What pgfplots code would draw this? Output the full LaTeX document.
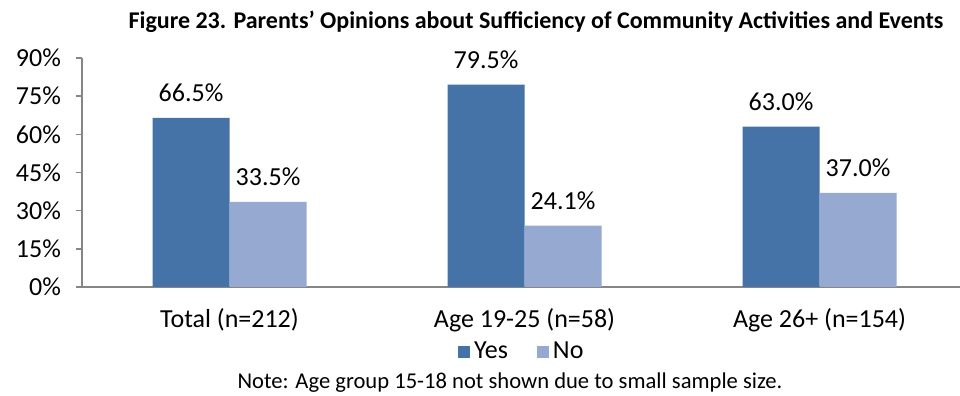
\documentclass[border=0pt]{standalone}
\usepackage{fontspec}
\setmainfont{Carlito}
\usepackage{pgfplots}
\pgfplotsset{compat=1.18}

\definecolor{yesblue}{RGB}{69,114,167}
\definecolor{nolight}{RGB}{149,169,209}
\definecolor{axisgray}{RGB}{134,134,134}

\begin{document}
\begin{tikzpicture}
\path[use as bounding box] (0,0) rectangle (480pt,198pt);

\node[font=\fontsize{12}{14}\selectfont\bfseries] at (268pt,187pt)
  {Figure 23. Parents’ Opinions about Sufficiency of Community Activities and Events};

\begin{axis}[
  at={(41pt,54.5pt)}, anchor=south west,
  scale only axis, width=439pt, height=114.5pt,
  clip=false,
  /pgf/number format/assume math mode=true,
  font=\fontsize{13}{15}\selectfont,
  ymin=0, ymax=90, ytick={0,15,...,90},
  yticklabel={\pgfmathprintnumber{\tick}\%},
  xmin=-0.5, xmax=2.476,
  xtick={0,1,2},
  xticklabels={Total (n=212), Age 19-25 (n=58), Age 26+ (n=154)},
  major x tick style={draw=none},
  extra x ticks={-0.5,0.5,1.5},
  extra x tick labels={},
  extra x tick style={major tick length=3pt, tick style={draw=axisgray, line width=0.8pt}},
  tick align=outside, major tick length=3pt,
  tick style={draw=axisgray, line width=0.8pt},
  axis x line*=bottom, axis y line*=left,
  axis line style={draw=axisgray, line width=0.8pt, -},
  xticklabel style={yshift=-4pt},
  yticklabel style={xshift=-4pt},
  ybar, bar width=0.261,
  nodes near coords={\pgfmathprintnumber[fixed,fixed zerofill,precision=1]{\pgfplotspointmeta}\%},
  every node near coord/.append style={anchor=south, inner sep=0pt, yshift=8pt, text=black},
  legend columns=2,
  legend style={at={(0.502,-0.284)}, anchor=center, draw=none, fill=none,
    font=\fontsize{13}{15}\selectfont,
    /tikz/every even column/.append style={column sep=12.5pt}},
  legend image code/.code={\fill[#1] (0pt,-3pt) rectangle (6pt,3pt);},
]
\addplot[fill=yesblue, draw=none, bar shift=-0.1305] coordinates {(0,66.5) (1,79.5) (2,63.0)};
\addplot[fill=nolight, draw=none, bar shift=0.1305] coordinates {(0,33.5) (1,24.1) (2,37.0)};
\legend{Yes, No}
\end{axis}

\node[font=\fontsize{11.3}{13}\selectfont] at (255pt,6.5pt)
  {Note: Age group 15-18 not shown due to small sample size.};
\end{tikzpicture}
\end{document}
